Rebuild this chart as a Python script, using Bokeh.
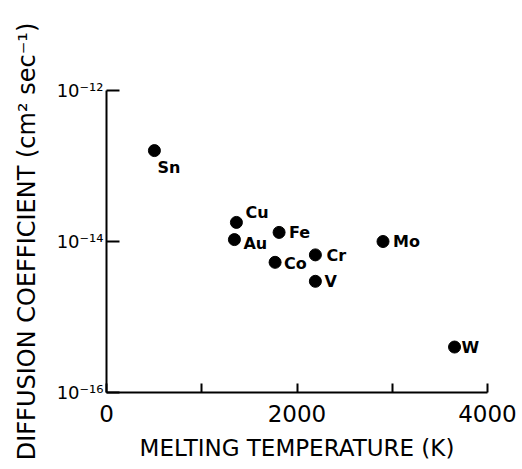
from bokeh.plotting import figure
from bokeh.models import ColumnDataSource, Range1d, FixedTicker, Title
from bokeh.core.properties import value
from bokeh.embed import file_html
from bokeh.resources import INLINE

# ---- data ----
elements = ["Sn", "Cu", "Au", "Fe", "Co", "Cr", "V", "Mo", "W"]
melting_temp_K = [503, 1364, 1343, 1812, 1770, 2193, 2193, 2903, 3654]
diffusion_coeff = [1.6e-13, 1.79e-14, 1.06e-14, 1.32e-14, 5.3e-15, 6.65e-15, 2.97e-15, 1.0e-14, 4.0e-16]

x_ticks = [0, 1000, 2000, 3000, 4000]
x_tick_labels = {0: "0", 1000: "", 2000: "2000", 3000: "", 4000: "4000"}
y_ticks = [1e-16, 1e-14, 1e-12]
y_tick_labels = {1e-16: "10\u207b\u00b9\u2076", 1e-14: "10\u207b\u00b9\u2074", 1e-12: "10\u207b\u00b9\u00b2"}
x_title = "MELTING TEMPERATURE (K)"
y_title = "DIFFUSION COEFFICIENT (cm\u00b2 sec\u207b\u00b9)"

# label placement (pixel offsets from each point), styling only
label_dx = {"Sn": 3, "Cu": 9, "Au": 9, "Fe": 10, "Co": 9, "Cr": 11, "V": 9, "Mo": 10, "W": 7}
label_dy = {"Sn": 17, "Cu": -10, "Au": 4, "Fe": 0, "Co": 1, "Cr": 1, "V": 0, "Mo": 0, "W": 0}

src = ColumnDataSource(dict(
    x=melting_temp_K, y=diffusion_coeff, name=elements,
    dx=[label_dx[e] for e in elements], dy=[label_dy[e] for e in elements],
))

FONT = "DejaVu Sans"

p = figure(width=521, height=468, output_backend="svg", toolbar_location=None,
           y_axis_type="log", x_range=Range1d(0, 4000), y_range=Range1d(1e-16, 1e-12),
           min_border_left=106, min_border_right=34, min_border_top=90, min_border_bottom=73)
p.outline_line_color = None
p.xgrid.visible = False
p.ygrid.visible = False
p.background_fill_color = "white"

for ax in (p.xaxis[0], p.yaxis[0]):
    ax.axis_line_width = 2
    ax.axis_line_color = "black"
    ax.major_tick_line_width = 2
    ax.major_tick_line_color = "black"
    ax.minor_tick_line_color = None
    ax.major_tick_out = 0
    ax.major_label_text_color = "black"
    ax.major_label_text_font = FONT
    ax.axis_label_text_font = FONT
    ax.axis_label_text_font_style = "normal"
    ax.axis_label_text_color = "black"

xa = p.xaxis[0]
xa.ticker = FixedTicker(ticks=x_ticks, minor_ticks=[])
xa.major_label_overrides = x_tick_labels
xa.major_tick_in = 9
xa.major_label_text_font_size = "23px"
xa.major_label_standoff = 12

ya = p.yaxis[0]
ya.ticker = FixedTicker(ticks=y_ticks, minor_ticks=[])
ya.major_label_overrides = y_tick_labels
ya.major_tick_in = 13
ya.major_label_text_font_size = "18px"
ya.major_label_standoff = 3
ya.axis_label = y_title
ya.axis_label_text_font_size = "24px"
ya.axis_label_standoff = 13

# x-axis title as a title panel below the axis
p.add_layout(Title(text=x_title, align="center", offset=8, standoff=16,
                   text_font=FONT, text_font_size="23px", text_font_style="normal",
                   text_color="black"), "below")

p.scatter("x", "y", source=src, size=12, color="black")
p.text("x", "y", text="name", source=src, x_offset="dx", y_offset="dy",
       text_font=value(FONT), text_font_style="bold", text_font_size="16px",
       text_align="left", text_baseline="middle", text_color="black")

open("out.html", "w").write(file_html(p, INLINE))
